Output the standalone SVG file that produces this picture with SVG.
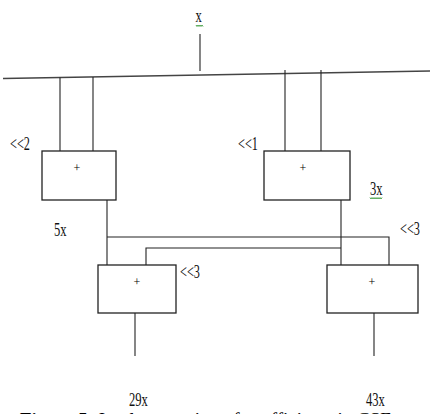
<svg xmlns="http://www.w3.org/2000/svg" width="430" height="414" viewBox="0 0 430 414">
<style>
.box{fill:#fff;stroke:#222;stroke-width:1.3}
.w{fill:none;stroke:#222;stroke-width:1.1}
.bus{fill:none;stroke:#444;stroke-width:1.6}
.lbl{font-family:"Liberation Serif","Times New Roman",serif;font-size:18px;fill:#111}
.plus{font-family:"Liberation Serif","Times New Roman",serif;font-size:12px;fill:#000;text-anchor:middle}
.sq{fill:none;stroke:#3a9a3a;stroke-width:0.9}
.cap{font-family:"Liberation Serif","Times New Roman",serif;font-size:19px;fill:#000}
</style>
<rect width="430" height="414" fill="#fff"/>
<g id="connectors">
<line class="w" x1="200" y1="34" x2="200" y2="71"/>
<line class="bus" x1="3" y1="78.5" x2="430" y2="71"/>
<line class="w" x1="60" y1="77.5" x2="60" y2="151"/>
<line class="w" x1="93" y1="77" x2="93" y2="151"/>
<line class="w" x1="285" y1="70" x2="285" y2="151"/>
<line class="w" x1="321" y1="70" x2="321" y2="151"/>
<polyline class="w" points="107,200 107,265"/>
<polyline class="w" points="341,200 341,265"/>
<polyline class="w" points="107,237 389,237 389,265"/>
<polyline class="w" points="341,248 146,248 146,265"/>
<line class="w" x1="135" y1="313" x2="135" y2="356"/>
<line class="w" x1="374" y1="313" x2="374" y2="356"/>
</g>
<g id="add1"><rect class="box" x="42" y="151" width="74" height="49"/><text class="plus" x="77" y="172">+</text></g>
<g id="add2"><rect class="box" x="264" y="151" width="86" height="49"/><text class="plus" x="303" y="172">+</text></g>
<g id="add3"><rect class="box" x="98" y="265" width="78" height="48"/><text class="plus" x="137" y="286">+</text></g>
<g id="add4"><rect class="box" x="327" y="265" width="91" height="48"/><text class="plus" x="372" y="286">+</text></g>
<g id="labels">
<text class="lbl" transform="translate(195.5,22) scale(0.7,1)">x</text>
<polyline class="sq" points="196,25 197,26.5 198,25 199,26.5 200,25 201,26.5 202,25 203,26.5"/>
<text class="lbl" transform="translate(10,150) scale(0.68,1)">&lt;&lt;2</text>
<text class="lbl" transform="translate(238,150) scale(0.68,1)">&lt;&lt;1</text>
<text class="lbl" transform="translate(370,195) scale(0.7,1)">3x</text>
<polyline class="sq" points="370,197.5 371,199 372,197.5 373,199 374,197.5 375,199 376,197.5 377,199 378,197.5 379,199 380,197.5 381,199 382,197.5"/>
<text class="lbl" transform="translate(54,236) scale(0.7,1)">5x</text>
<text class="lbl" transform="translate(400,235) scale(0.68,1)">&lt;&lt;3</text>
<text class="lbl" transform="translate(180,278) scale(0.68,1)">&lt;&lt;3</text>
<text class="lbl" transform="translate(129,406) scale(0.7,1)">29x</text>
<text class="lbl" transform="translate(366,406) scale(0.7,1)">43x</text>
<text class="cap" x="20" y="426"><tspan font-weight="bold">Figure 5:</tspan> Implementation of coefficients in CSE</text>
</g>
</svg>
